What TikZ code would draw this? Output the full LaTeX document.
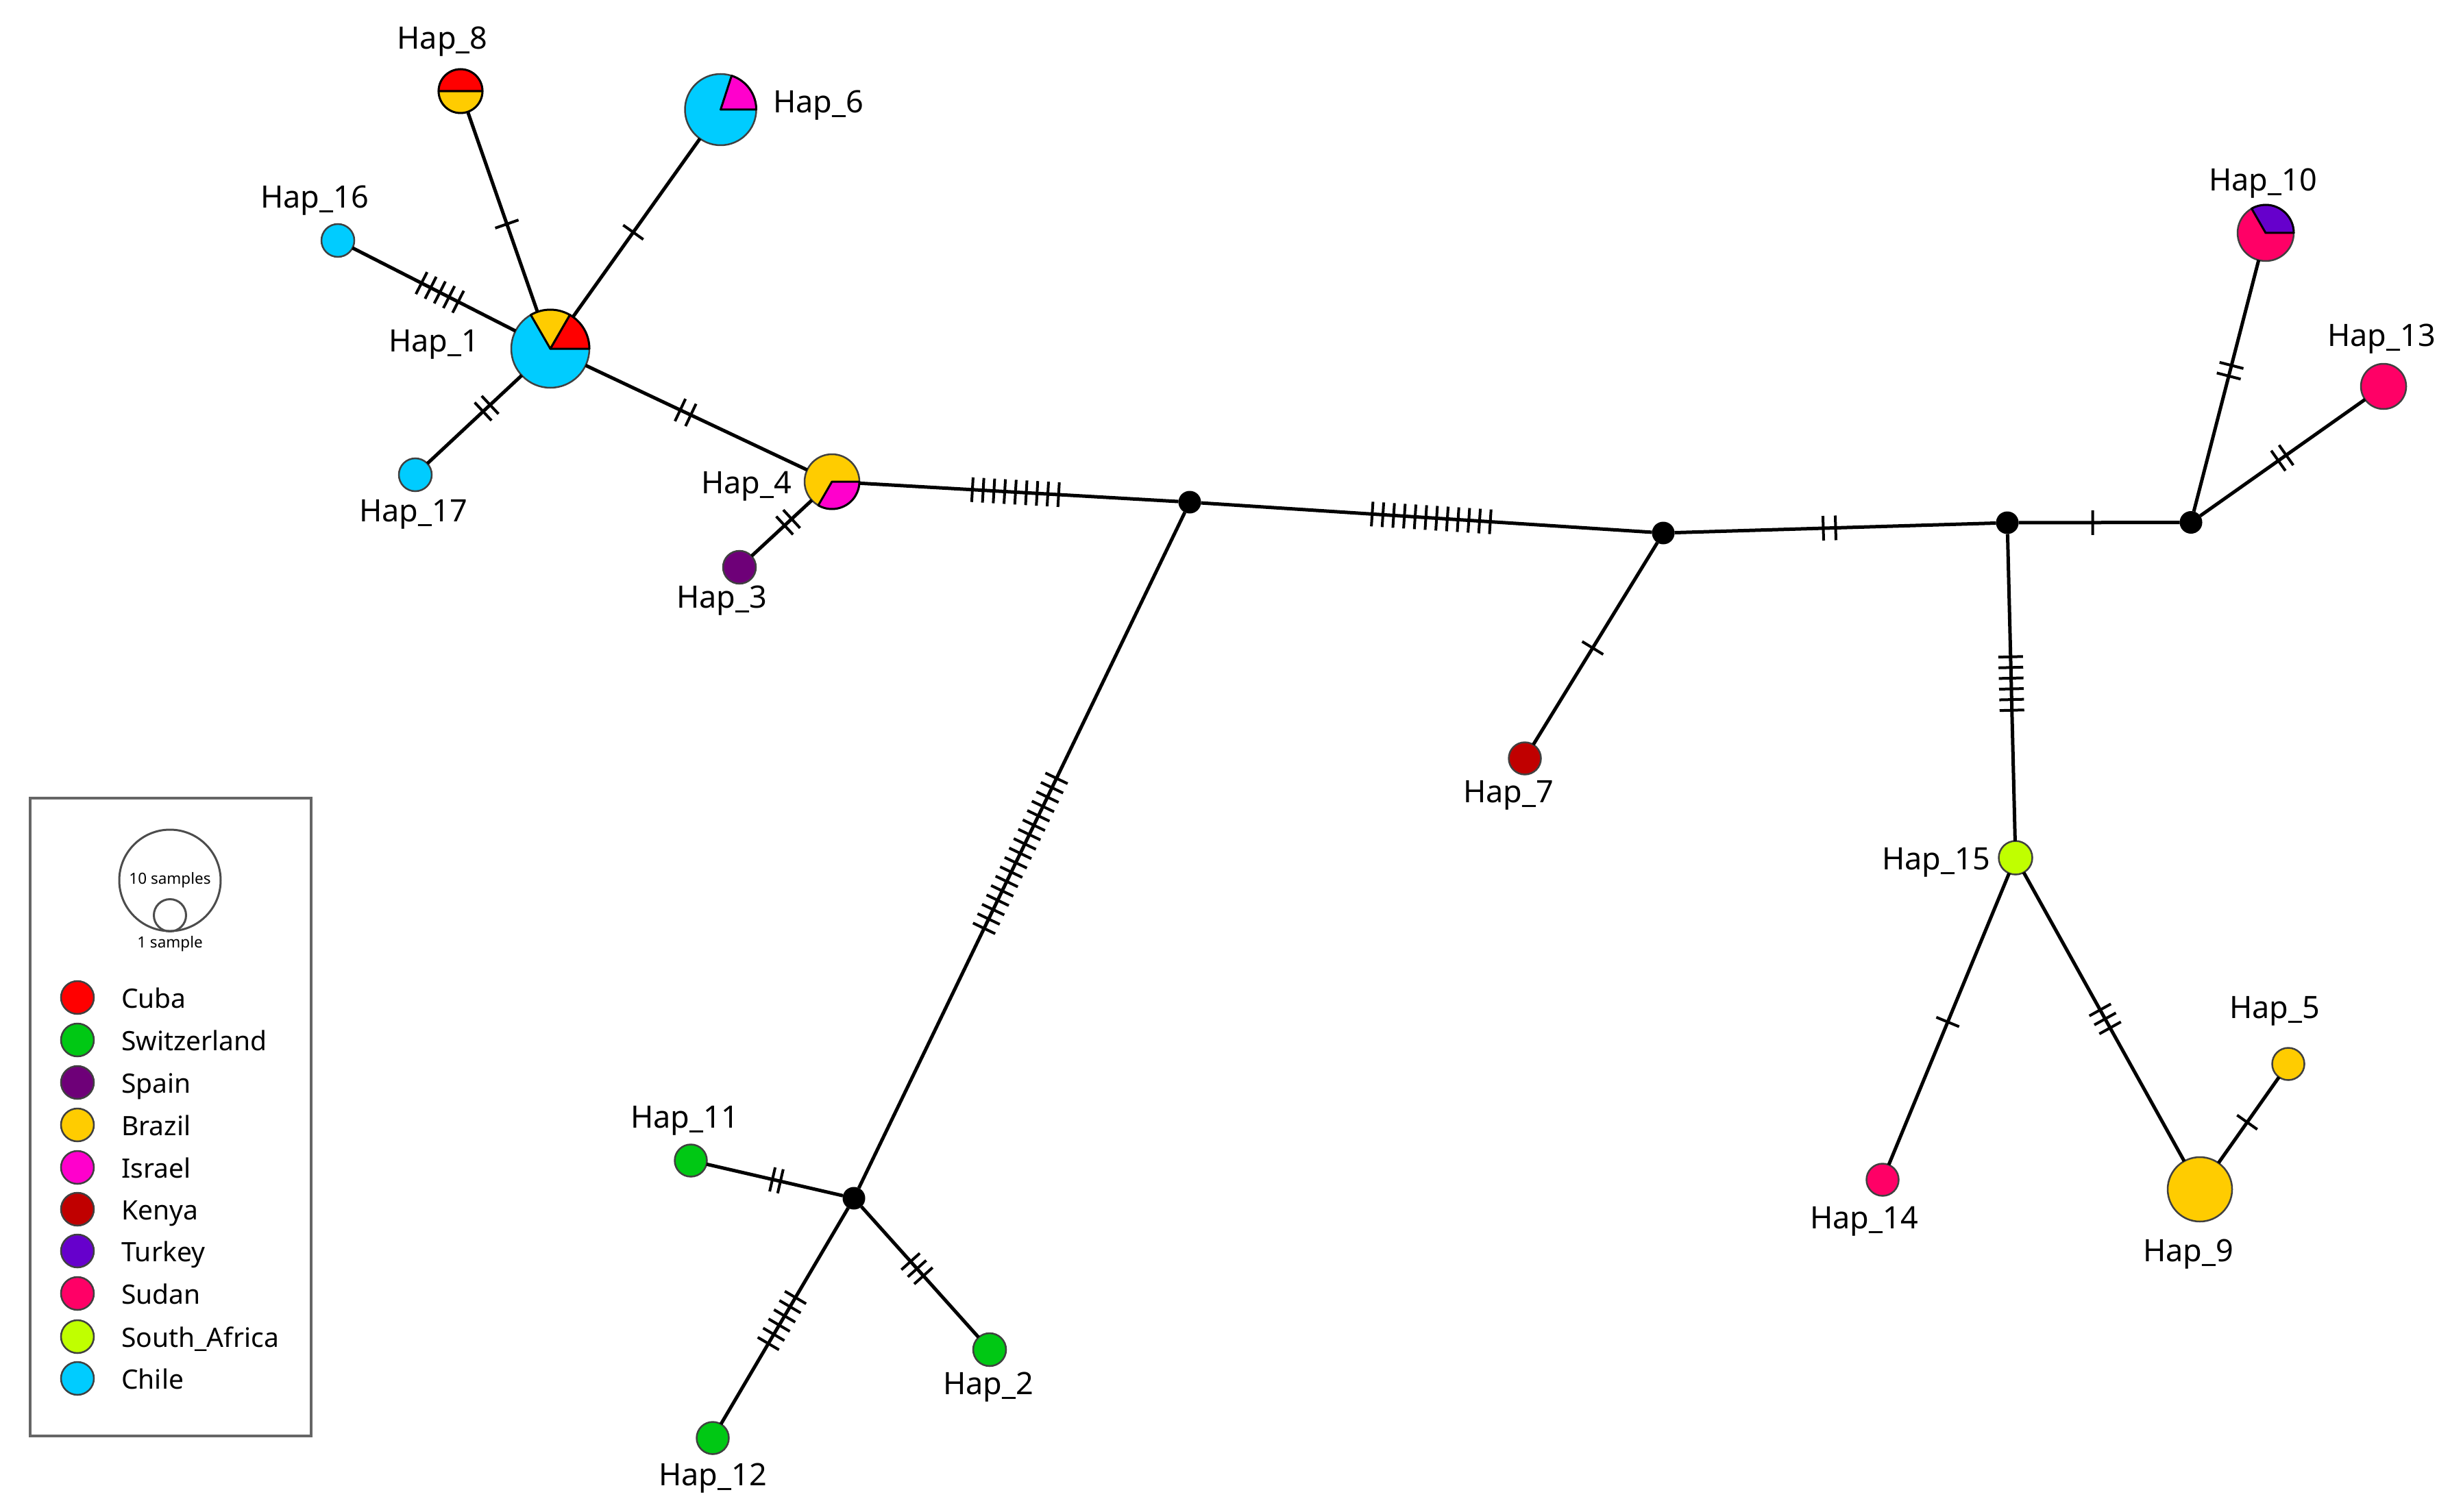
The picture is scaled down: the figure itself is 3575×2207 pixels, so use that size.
\documentclass[tikz,border=0pt]{standalone}
\usepackage{fontspec}
\setmainfont{Noto Sans}
\usetikzlibrary{calc}
\definecolor{cCuba}{RGB}{255,0,0}
\definecolor{cSwiss}{RGB}{0,200,20}
\definecolor{cSpain}{RGB}{110,0,120}
\definecolor{cBrazil}{RGB}{255,204,0}
\definecolor{cIsrael}{RGB}{255,0,204}
\definecolor{cKenya}{RGB}{192,0,0}
\definecolor{cTurkey}{RGB}{102,0,204}
\definecolor{cSudan}{RGB}{255,0,102}
\definecolor{cSAfrica}{RGB}{192,255,0}
\definecolor{cChile}{RGB}{0,204,255}
\tikzset{
  hapnode/.style={circle,draw=black!75,line width=2.5pt,inner sep=0pt,outer sep=0pt},
  median/.style={circle,fill=black,inner sep=0pt,outer sep=0pt,minimum size=33pt},
  hapedge/.style={black,line width=5pt},
  hatchmark/.style={black,line width=4pt},
  slice/.style={draw=black,line width=3pt,line join=round},
  haplabel/.style={anchor=base,inner sep=0pt,font=\fontsize{45}{50}\selectfont},
  legtext/.style={anchor=base west,inner sep=0pt,font=\fontsize{39}{44}\selectfont},
  smalltext/.style={inner sep=0pt,font=\fontsize{22.5}{26}\selectfont},
  legendbox/.style={draw=black!60,line width=4.5pt},
  sizering/.style={circle,draw=black!70,line width=3pt,inner sep=0pt,outer sep=0pt},
  legdot/.style={circle,draw=black!75,line width=2.5pt,inner sep=0pt,minimum size=48pt}
}
% edge from #1 to #2 with #4 hatch marks centred at fraction #3, #5 apart
\newcommand{\hapedge}[5]{%
  \draw[hapedge] (#1) -- (#2);
  \coordinate (mid) at ($(#1)!#3!(#2)$);
  \foreach \k in {1,...,#4}{
    \coordinate (tk) at ($(mid)!{(\k-(#4+1)/2)*#5*1pt}!(#2)$);
    \draw[hatchmark] ($(tk)!18pt!90:(#2)$) -- ($(tk)!18pt!-90:(#2)$);
  }}
% pie slice in node #1 with radius #2 from angle #3 to #4 in colour #5
\newcommand{\pieslice}[5]{%
  \filldraw[slice,fill=#5] (#1.center) -- ++(#3:#2pt) arc[start angle=#3,end angle=#4,radius=#2pt] -- cycle;}
\begin{document}
\begin{tikzpicture}[x=1pt,y=-1pt]
\path[use as bounding box,fill=white] (0,0) rectangle (3575,2207);
% haplotype circles
\node[hapnode,minimum size=114pt,fill=cChile] (h1) at (803,509) {};
\node[hapnode,minimum size=48pt,fill=cSwiss] (h2) at (1444,1970) {};
\node[hapnode,minimum size=48pt,fill=cSpain] (h3) at (1079,828) {};
\node[hapnode,minimum size=80pt,fill=cBrazil] (h4) at (1214,703) {};
\node[hapnode,minimum size=47pt,fill=cBrazil] (h5) at (3339,1553) {};
\node[hapnode,minimum size=104pt,fill=cChile] (h6) at (1051.5,160) {};
\node[hapnode,minimum size=47pt,fill=cKenya] (h7) at (2225,1107) {};
\node[hapnode,minimum size=64pt,fill=cBrazil] (h8) at (672,133) {};
\node[hapnode,minimum size=94pt,fill=cBrazil] (h9) at (3210,1736) {};
\node[hapnode,minimum size=82pt,fill=cSudan] (h10) at (3306,340) {};
\node[hapnode,minimum size=47pt,fill=cSwiss] (h11) at (1008,1694) {};
\node[hapnode,minimum size=47pt,fill=cSwiss] (h12) at (1040,2099) {};
\node[hapnode,minimum size=66pt,fill=cSudan] (h13) at (3478,564) {};
\node[hapnode,minimum size=47pt,fill=cSudan] (h14) at (2747,1722) {};
\node[hapnode,minimum size=49pt,fill=cSAfrica] (h15) at (2941,1252) {};
\node[hapnode,minimum size=48pt,fill=cChile] (h16) at (493,351) {};
\node[hapnode,minimum size=48pt,fill=cChile] (h17) at (606,693) {};
% median vectors
\node[median] (ma) at (1736,733) {};
\node[median] (mb) at (2427,778) {};
\node[median] (mc) at (1246,1749) {};
\node[median] (md) at (2929,763) {};
\node[median] (me) at (3197,762.5) {};
% connectors
\hapedge{h8}{h1}{.516}{1}{15}
\hapedge{h6}{h1}{.513}{1}{15}
\hapedge{h16}{h1}{.48}{5}{15}
\hapedge{h17}{h1}{.528}{2}{14}
\hapedge{h1}{h4}{.48}{2}{17}
\hapedge{h3}{h4}{.526}{2}{14}
\hapedge{h4}{ma}{.513}{9}{15.75}
\hapedge{ma}{mb}{.51}{12}{15.7}
\hapedge{ma}{mc}{.5045}{17}{15.2}
\hapedge{mb}{md}{.483}{2}{18}
\hapedge{md}{me}{.465}{1}{15}
\hapedge{me}{h10}{.524}{2}{16}
\hapedge{me}{h13}{.474}{2}{14}
\hapedge{md}{h15}{.48}{6}{15.6}
\hapedge{h15}{h14}{.51}{1}{15}
\hapedge{h15}{h9}{.486}{3}{15}
\hapedge{h9}{h5}{.535}{1}{15}
\hapedge{h7}{mb}{.49}{1}{15}
\hapedge{h11}{mc}{.525}{2}{12}
\hapedge{mc}{h2}{.465}{3}{14}
\hapedge{mc}{h12}{.51}{6}{15.6}
% pie slices
\pieslice{h1}{57}{0}{60}{cCuba}
\pieslice{h1}{57}{60}{120}{cBrazil}
\pieslice{h4}{40}{240}{360}{cIsrael}
\pieslice{h6}{52}{0}{72}{cIsrael}
\pieslice{h8}{32}{180}{360}{cBrazil}
\pieslice{h8}{32}{0}{180}{cCuba}
\pieslice{h10}{41}{0}{120}{cTurkey}
% labels
\node[haplabel] (l1) at (633,513) {Hap\_1};
\node[haplabel] (l2) at (1442,2035) {Hap\_2};
\node[haplabel] (l3) at (1053,887) {Hap\_3};
\node[haplabel] (l4) at (1089,720) {Hap\_4};
\node[haplabel] (l5) at (3319,1486) {Hap\_5};
\node[haplabel] (l6) at (1194,165) {Hap\_6};
\node[haplabel] (l7) at (2201,1171) {Hap\_7};
\node[haplabel] (l8) at (645.5,72) {Hap\_8};
\node[haplabel] (l9) at (3193,1841) {Hap\_9};
\node[haplabel] (l10) at (3302,279) {Hap\_10};
\node[haplabel] (l11) at (999,1646) {Hap\_11};
\node[haplabel] (l12) at (1040,2168) {Hap\_12};
\node[haplabel] (l13) at (3475,505) {Hap\_13};
\node[haplabel] (l14) at (2720,1793) {Hap\_14};
\node[haplabel] (l15) at (2825,1269) {Hap\_15};
\node[haplabel] (l16) at (459,304) {Hap\_16};
\node[haplabel] (l17) at (603,761) {Hap\_17};
% legend
\draw[legendbox] (44,1165) rectangle (454,2096);
\node[sizering,minimum size=148pt] (ten) at (248,1285) {};
\node[sizering,minimum size=47pt] (one) at (248,1336) {};
\node[smalltext] (tenl) at (248,1285) {10 samples};
\node[smalltext] (onel) at (248,1377.5) {1 sample};
\foreach \nm/\col/\yy in {Cuba/cCuba/1456,Switzerland/cSwiss/1518,Spain/cSpain/1580,Brazil/cBrazil/1642,Israel/cIsrael/1704,Kenya/cKenya/1765,Turkey/cTurkey/1826,Sudan/cSudan/1888,South\_Africa/cSAfrica/1951,Chile/cChile/2012}{
  \node[legdot,fill=\col] at (113,\yy) {};
  \node[legtext] at (177,\yy+15) {\nm};
}
\end{tikzpicture}
\end{document}
